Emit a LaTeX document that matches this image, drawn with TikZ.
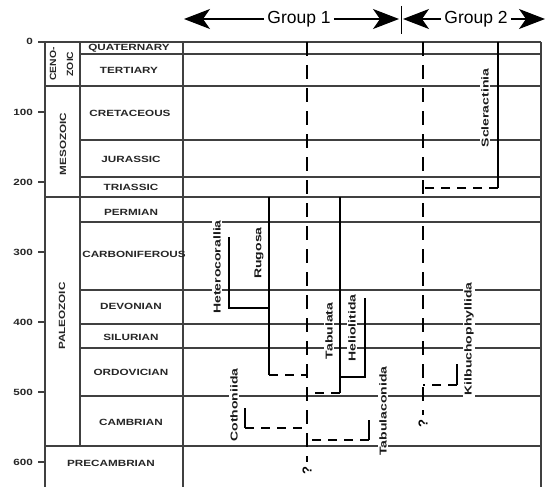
\documentclass[tikz,border=0pt]{standalone}
\usepackage{graphicx}
\usepackage{fontspec}
\setmainfont{Liberation Sans}
\usetikzlibrary{arrows.meta}
\newcommand{\stretchtxt}[2][1.3]{\scalebox{#1}[1]{#2}}
\begin{document}
\begin{tikzpicture}[x=1pt,y=-1pt,
  grid/.style={black!75,line width=1.4pt},
  rng/.style={black,line width=1.6pt},
  rngdash/.style={black,line width=1.6pt,dash pattern=on 9pt off 7pt},
  guide/.style={black,line width=2pt,dash pattern=on 14pt off 9pt},
  garrow/.style={black,line width=1.3pt,-{Stealth[length=26pt,width=20pt,inset=7pt]}},
  per/.style={inner sep=0pt,text=black!85,font=\fontsize{9}{10}\selectfont\bfseries},
  era/.style={per,rotate=90},
  num/.style={inner sep=0pt,anchor=east,text=black!85,font=\fontsize{9}{10}\selectfont\bfseries},
  taxon/.style={rotate=90,fill=white,inner sep=1.2pt,text=black!90,font=\fontsize{10}{11}\selectfont\bfseries},
  qmark/.style={rotate=90,inner sep=0pt,font=\fontsize{13}{14}\selectfont\bfseries},
  grp/.style={inner sep=3pt,font=\fontsize{17.5}{18}\selectfont}]
\useasboundingbox[fill=white] (0,0) rectangle (546,487);
% frame and grid
\draw[grid] (45,42) -- (45,487);
\draw[grid] (80,42) -- (80,446);
\draw[grid] (183,42) -- (183,487);
\draw[grid] (541,42) -- (541,487);
\draw[grid] (38,42) -- (541,42);
\foreach \y in {54,140,177,222,290,324,348,396} \draw[grid] (80,\y) -- (541,\y);
\foreach \y in {86,197,446} \draw[grid] (45,\y) -- (541,\y);
% axis ticks and numbers
\node[num] (n0) at (33,41) {\stretchtxt{0}};
\foreach \y/\t in {112/100,182/200,252/300,322/400,392/500,462/600} {
  \draw[grid] (38,\y) -- (45,\y);
  \node[num] (n\t) at (33,\y) {\stretchtxt{\t}};
}
% eras
\node[era] (ceno) at (53,64) {\stretchtxt[1.15]{CENO-}};
\node[era] (zoic) at (70,64) {\stretchtxt[1.15]{ZOIC}};
\node[era] (meso) at (63,144) {\stretchtxt{MESOZOIC}};
\node[era] (pale) at (62,316) {\stretchtxt{PALEOZOIC}};
% periods
\node[per] (quat) at (129,48) {\stretchtxt{QUATERNARY}};
\node[per] (tert) at (129,70) {\stretchtxt{TERTIARY}};
\node[per] (cret) at (130,113) {\stretchtxt{CRETACEOUS}};
\node[per] (jura) at (131,159) {\stretchtxt{JURASSIC}};
\node[per] (tria) at (131,187) {\stretchtxt{TRIASSIC}};
\node[per] (perm) at (131,212) {\stretchtxt{PERMIAN}};
\node[per] (carb) at (134,254) {\stretchtxt{CARBONIFEROUS}};
\node[per] (devo) at (131,306) {\stretchtxt{DEVONIAN}};
\node[per] (silu) at (131,337) {\stretchtxt{SILURIAN}};
\node[per] (ordo) at (131,372) {\stretchtxt{ORDOVICIAN}};
\node[per] (camb) at (131,422) {\stretchtxt{CAMBRIAN}};
\node[per] (prec) at (111,463) {\stretchtxt{PRECAMBRIAN}};
% group headings
\node[grp] (g1) at (299,19) {Group 1};
\node[grp] (g2) at (476,19) {Group 2};
\coordinate (g1l) at (184,19);
\coordinate (g1r) at (399,19);
\coordinate (g2l) at (403,19);
\coordinate (g2r) at (545,19);
\coordinate (sept) at (401,6);
\coordinate (sepb) at (401,34);
\draw[garrow] (g1) -- (g1l);
\draw[garrow] (g1) -- (g1r);
\draw[garrow] (g2) -- (g2l);
\draw[garrow] (g2) -- (g2r);
\draw[black,line width=1pt] (sept) -- (sepb);
% dashed group guides
\coordinate (d1t) at (307,42); \coordinate (d1b) at (307,462);
\coordinate (d2t) at (423,42); \coordinate (d2b) at (423,415);
\draw[guide] (d1t) -- (d1b);
\draw[guide] (d2t) -- (d2b);
\node[qmark] (q1) at (307,471) {?};
\node[qmark] (q2) at (423,424) {?};
% taxon labels
\node[taxon] (het) at (217,267) {\stretchtxt[1.4]{Heterocorallia}};
\node[taxon] (rug) at (259,253) {\stretchtxt[1.4]{Rugosa}};
\node[taxon] (tab) at (329,331) {\stretchtxt[1.4]{Tabulata}};
\node[taxon] (hel) at (352,328) {\stretchtxt[1.4]{Heliolitida}};
\node[taxon] (cot) at (234,405) {\stretchtxt[1.4]{Cothoniida}};
\node[taxon] (tbc) at (383,411) {\stretchtxt[1.4]{Tabulaconida}};
\node[taxon] (kil) at (469,339) {\stretchtxt[1.4]{Kilbuchophyllida}};
\node[taxon] (scl) at (485,108) {\stretchtxt[1.4]{Scleractinia}};
% ranges
\coordinate (rug-t) at (269,197); \coordinate (rug-b) at (269,375); \coordinate (rug-e) at (307,375);
\draw[rng] (rug-t) -- (rug-b);
\draw[rngdash] (rug-b) -- (rug-e);
\coordinate (het-t) at (229,237); \coordinate (het-b) at (229,308); \coordinate (het-j) at (269,308);
\draw[rng] (het-t) -- (het-b) -- (het-j);
\coordinate (tab-t) at (340,197); \coordinate (tab-b) at (340,393); \coordinate (tab-e) at (307,393);
\draw[rng] (tab-t) -- (tab-b);
\draw[rngdash] (tab-b) -- (tab-e);
\coordinate (hel-t) at (365,298); \coordinate (hel-b) at (365,377); \coordinate (hel-j) at (340,377);
\draw[rng] (hel-t) -- (hel-b) -- (hel-j);
\coordinate (cot-t) at (245,408); \coordinate (cot-b) at (245,428); \coordinate (cot-e) at (307,428);
\draw[rng] (cot-t) -- (cot-b);
\draw[rngdash] (cot-b) -- (cot-e);
\coordinate (tbc-t) at (369,420); \coordinate (tbc-b) at (369,440); \coordinate (tbc-e) at (307,440);
\draw[rng] (tbc-t) -- (tbc-b);
\draw[rngdash] (tbc-b) -- (tbc-e);
\coordinate (kil-t) at (457,364); \coordinate (kil-b) at (457,385); \coordinate (kil-e) at (423,385);
\draw[rng] (kil-t) -- (kil-b);
\draw[rngdash] (kil-b) -- (kil-e);
\coordinate (scl-t) at (498,42); \coordinate (scl-b) at (498,188); \coordinate (scl-e) at (423,188);
\draw[rng] (scl-t) -- (scl-b);
\draw[rngdash] (scl-b) -- (scl-e);
\end{tikzpicture}
\end{document}
